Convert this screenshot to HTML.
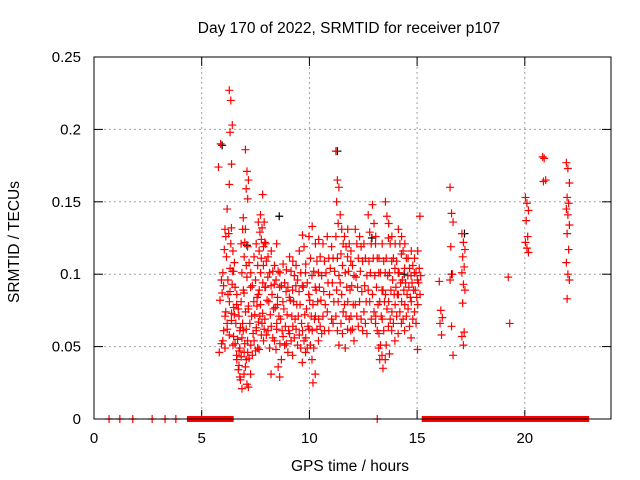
<!DOCTYPE html>
<html><head><meta charset="utf-8"><style>
html,body{margin:0;padding:0;background:#fff;}
svg{display:block;font-family:"Liberation Sans",sans-serif;}
</style></head><body>
<svg id="chart" width="640" height="480" viewBox="0 0 640 480" xmlns="http://www.w3.org/2000/svg">
<rect x="0" y="0" width="640" height="480" fill="#fff"/>
<text x="349" y="33" font-size="15.5" text-anchor="middle">Day 170 of 2022, SRMTID for receiver p107</text>
<text x="350" y="471" font-size="15.5" text-anchor="middle">GPS time / hours</text>
<text x="19" y="242" font-size="15.5" text-anchor="middle" transform="rotate(-90 19 242)">SRMTID / TECUs</text>
<g id="grid"></g>
<g id="ticks"></g>
<g id="zeros"></g>
<g id="pts"></g>
<rect x="94" y="57" width="517" height="362" fill="none" stroke="#000" stroke-width="1"/>
</svg>
<script>
const xTicks=[0,5,10,15,20];
const yTicks=[0,0.05,0.1,0.15,0.2,0.25];
const yTickLabels=["0","0.05","0.1","0.15","0.2","0.25"];
const groupHours=[5.85,5.95,6.05,6.15,6.25,6.35,6.45,6.55,6.7,6.8,6.9,7.0,7.1,7.2,7.35,7.5,7.6,7.7,7.8,7.9,8.0,8.15,8.3,8.45,8.55,8.7,8.85,9.0,9.15,9.3,9.45,9.6,9.75,9.9,10.05,10.2,10.35,10.5,10.7,10.9,11.1,11.3,11.5,11.7,11.85,12.0,12.2,12.4,12.6,12.8,13.0,13.15,13.3,13.45,13.6,13.75,13.9,14.05,14.2,14.35,14.5,14.65,14.8,14.95,15.1,15.2,16.1,16.6,17.15,19.3,20.1,20.9,22.0];
const groupValues=[
[.174,.082,.052,.046],[.19,.087,.061,.096],[.101,.117,.126,.092,.071,.054],[.131,.112,.086,.074,.062,.049],
[.145,.128,.104,.096,.081,.066],[.227,.22,.203,.198,.176,.162,.121,.102,.088,.073,.058],[.132,.116,.108,.093,.077,.068,.051],
[.102,.091,.079,.072,.066,.057,.052,.044],[.086,.076,.061,.055,.047,.041,.034,.029],[.071,.063,.056,.049,.043,.037,.027,.021],
[.121,.131,.112,.101,.089,.081,.066,.046],[.139,.122,.106,.087,.074,.061,.052,.041,.031],[.186,.171,.165,.159,.152,.131,.098,.078,.062,.046,.036,.024],
[.119,.108,.091,.076,.066,.054,.042,.031,.022],[.101,.092,.081,.071,.059,.051,.044],[.112,.096,.084,.072,.063,.054,.047],
[.121,.106,.089,.078,.067,.061,.049],[.136,.129,.124,.116,.101,.086,.071,.058,.048],[.141,.132,.119,.111,.094,.079,.066,.054],
[.155,.136,.121,.106,.091,.073,.062],[.122,.109,.098,.091,.082,.069,.058],[.112,.101,.092,.081,.072,.061,.049,.031],
[.116,.102,.093,.086,.076,.064,.056],[.106,.096,.084,.077,.066,.054,.048],[.121,.102,.091,.079,.071,.062,.036,.029],
[.101,.092,.081,.069,.061,.052,.041],[.107,.094,.088,.076,.064,.057,.051],[.103,.091,.084,.072,.061,.052,.046],
[.112,.102,.089,.082,.071,.059,.054,.044],[.109,.099,.092,.081,.069,.064,.056],[.106,.096,.088,.079,.071,.062,.051],
[.116,.101,.092,.079,.066,.058,.049,.039],[.127,.119,.101,.091,.072,.061,.054,.046],[.107,.094,.086,.076,.064,.056,.049],
[.126,.111,.099,.082,.071,.062,.051,.041],[.133,.102,.091,.079,.069,.061,.049,.031,.025],[.121,.109,.101,.089,.081,.071,.062,.054],
[.124,.112,.099,.091,.082,.069,.064,.059],[.121,.109,.101,.088,.079,.071,.061],[.126,.111,.104,.094,.086,.074,.061],
[.119,.111,.102,.094,.081,.069,.066],[.185,.165,.16,.15,.135,.126,.111,.099,.089,.081,.071,.061,.051],
[.141,.131,.121,.114,.106,.094,.086,.074,.066,.059],[.126,.119,.112,.101,.091,.079,.071,.062,.049],
[.131,.121,.109,.102,.089,.081,.069,.061],[.116,.106,.099,.092,.079,.071,.062,.054],[.131,.121,.111,.098,.091,.079,.071,.064],
[.126,.119,.109,.102,.088,.081,.069,.061],[.121,.111,.099,.092,.081,.074,.066,.059],[.141,.129,.121,.109,.101,.089,.081,.069],
[.148,.135,.121,.111,.099,.086,.074,.066],[.126,.111,.101,.091,.079,.071,.061,.049],[.111,.101,.089,.081,.071,.059,.051,.044,.041],
[.121,.109,.101,.089,.081,.069,.061,.041,.035],[.15,.14,.125,.111,.099,.086,.076,.064,.051],[.135,.121,.109,.101,.089,.081,.069,.061,.045],
[.126,.111,.104,.096,.086,.074,.066,.054],[.121,.109,.101,.091,.086,.079,.071,.059],[.131,.121,.114,.101,.094,.086,.074,.066],
[.126,.116,.104,.096,.089,.081,.069,.061],[.121,.111,.099,.094,.086,.079,.071],[.111,.104,.099,.091,.084,.076,.064,.056],
[.116,.106,.101,.094,.089,.081,.069],[.111,.101,.096,.089,.084,.074,.066,.048],[.116,.104,.099,.094,.086,.079],[.14],
[.095,.075,.07,.066,.058],[.16,.142,.136,.119,.1,.096,.064,.044],
[.128,.122,.117,.112,.105,.101,.093,.089,.08,.06,.057,.051],[.098,.066],
[.153,.149,.144,.137,.126,.122,.118,.115],[.181,.18,.165,.164],
[.177,.173,.163,.153,.149,.145,.141,.134,.128,.117,.108,.1,.096,.083]];
const blackHours=[5.95,7.1,8.6,11.3,12.9,14.4,16.6,17.2];
const blackValues=[.189,.12,.14,.185,.125,.1,.1,.128];
const zeroIsolated=[0.7,1.2,1.8,2.7,3.3,3.8,13.15];
const zeroRunStart=[4.5,5.55,15.4,17.3,17.95,18.35,19.5,21.8];
const zeroRunEnd=[5.45,6.3,17.2,17.8,18.25,19.4,21.7,22.8];

const X=h=>94+h*21.54;
const Y=v=>419-v*1448;
const NS="http://www.w3.org/2000/svg";
function mk(tag,attrs,parent){const e=document.createElementNS(NS,tag);for(const k in attrs)e.setAttribute(k,attrs[k]);parent.appendChild(e);return e;}
const grid=document.getElementById('grid'),ticks=document.getElementById('ticks'),pts=document.getElementById('pts'),zeros=document.getElementById('zeros');
xTicks.forEach(t=>{
  const x=X(t);
  if(t>0){const g=mk('line',{x1:x,y1:57,x2:x,y2:419,stroke:'#a0a0a0','stroke-dasharray':'2,3'},grid);
  }
  const a=mk('line',{x1:x,y1:419,x2:x,y2:410,stroke:'#000'},ticks);
  
  const b=mk('line',{x1:x,y1:57,x2:x,y2:66,stroke:'#000'},ticks);
  
  const l=mk('text',{x:x,y:443,'font-size':15,'text-anchor':'middle'},ticks);l.textContent=String(t);
  
});
yTicks.forEach((t,i)=>{
  const y=Y(t);
  if(t>0&&t<0.25){const g=mk('line',{x1:94,y1:y,x2:611,y2:y,stroke:'#a0a0a0','stroke-dasharray':'2,3'},grid);
  }
  const a=mk('line',{x1:94,y1:y,x2:103,y2:y,stroke:'#000'},ticks);
  
  const b=mk('line',{x1:611,y1:y,x2:602,y2:y,stroke:'#000'},ticks);
  
  const l=mk('text',{x:81,y:y+5,'font-size':15,'text-anchor':'end'},ticks);l.textContent=yTickLabels[i];
  
});
function cross(h,v,col,parent){
  const x=X(h),y=Y(v);
  return mk('path',{d:`M${x-4} ${y}H${x+4}M${x} ${y-4}V${y+4}`,stroke:col,'stroke-width':1.2,fill:'none'},parent);
}
blackHours.forEach((h,i)=>{const p=cross(h,blackValues[i],'#000',pts);
  });
groupHours.forEach((h,i)=>{groupValues[i].forEach((v,j)=>{
  const p=cross(h+(((j*7)%5)-2)*0.035,v,'#f00',pts);
  });});
zeroIsolated.forEach(h=>{const p=cross(h,0,'#f00',zeros);
  });
zeroRunStart.forEach((s,i)=>{
  const r=mk('rect',{x:X(s)-4,y:416,width:X(zeroRunEnd[i])-X(s)+8,height:6,fill:'#f00'},zeros);
  
});
</script>
</body></html>
